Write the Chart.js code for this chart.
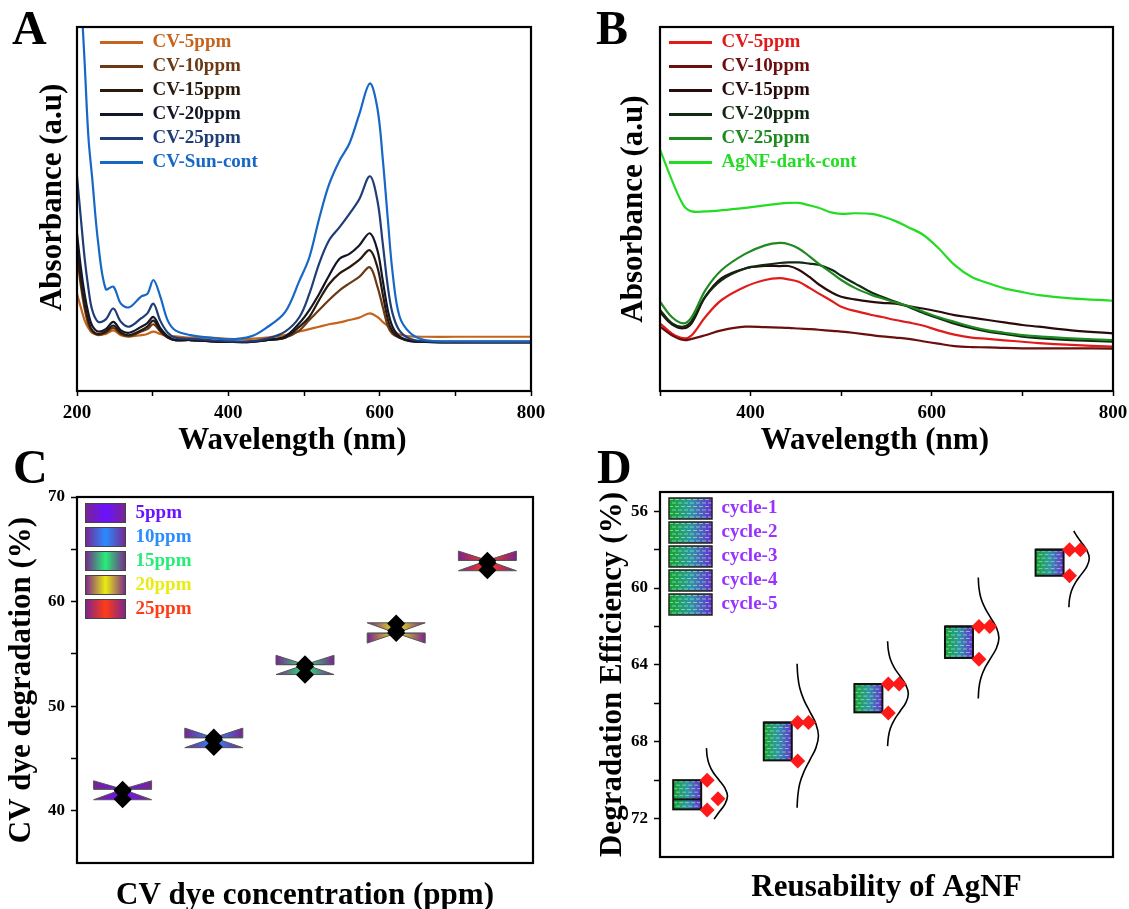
<!DOCTYPE html>
<html>
<head>
<meta charset="utf-8">
<title>CV dye degradation with AgNF</title>
<script src="https://cdn.jsdelivr.net/npm/chart.js@4.4.1/dist/chart.umd.min.js"></script>
<style>
  html, body { margin: 0; padding: 0; background: #fff; }
  #fig { position: relative; width: 1129px; height: 909px; overflow: hidden; background: #fff; }
  #fig canvas { position: absolute; }
  .tag { position: absolute; font: bold 48px 'Liberation Serif', 'Times New Roman', serif; line-height: 1; color: #000; }
</style>
</head>
<body>
<div id="fig">
  <canvas id="chartA" width="560" height="470" style="left:0;top:0"></canvas>
  <canvas id="chartB" width="569" height="470" style="left:560px;top:0"></canvas>
  <canvas id="chartC" width="560" height="460" style="left:0;top:460px"></canvas>
  <canvas id="chartD" width="569" height="460" style="left:560px;top:460px"></canvas>
  <div class="tag" style="left:12px;top:4px">A</div>
  <div class="tag" style="left:596px;top:4px">B</div>
  <div class="tag" style="left:13px;top:443px">C</div>
  <div class="tag" style="left:597px;top:443px">D</div>
</div>
<script>
const SERIF = "'Liberation Serif', 'Times New Roman', serif";
const NB = '\u00a0\u00a0\u00a0';
Chart.defaults.font.family = SERIF;
Chart.defaults.font.weight = 'bold';
Chart.defaults.color = '#000';
Chart.defaults.animation = false;
Chart.defaults.plugins.tooltip.enabled = false;

// ---- panel A : UV-vis, CV under sunlight ----
const waveA = [200, 205, 210, 215, 220, 228, 238, 248, 258, 269, 285, 293, 301, 310, 320, 330, 350, 375, 400, 430,
               450, 475, 494, 507, 520, 533, 547, 560, 573, 587, 597, 604, 611, 617, 626, 640, 660, 700, 800];
const cv5A  = [0.80, 0.69, 0.585, 0.52, 0.48, 0.465, 0.47, 0.50, 0.46, 0.45, 0.46, 0.47, 0.49, 0.47, 0.45, 0.45, 0.44, 0.44, 0.43, 0.43,
               0.44, 0.46, 0.49, 0.51, 0.53, 0.55, 0.565, 0.585, 0.605, 0.64, 0.61, 0.57, 0.535, 0.505, 0.465, 0.45, 0.447, 0.447, 0.447];
const cv10A = [1.13, 0.87, 0.68, 0.55, 0.49, 0.46, 0.48, 0.52, 0.47, 0.45, 0.49, 0.51, 0.55, 0.49, 0.44, 0.42, 0.42, 0.41, 0.405, 0.41,
               0.42, 0.44, 0.50, 0.585, 0.667, 0.75, 0.83, 0.887, 0.94, 1.02, 0.86, 0.695, 0.53, 0.47, 0.44, 0.415, 0.41, 0.405, 0.405];
const cv15A = [1.19, 0.92, 0.72, 0.58, 0.50, 0.47, 0.49, 0.54, 0.48, 0.46, 0.50, 0.53, 0.58, 0.50, 0.44, 0.42, 0.42, 0.41, 0.405, 0.405,
               0.42, 0.44, 0.53, 0.61, 0.75, 0.88, 0.97, 1.02, 1.08, 1.16, 1.02, 0.80, 0.585, 0.49, 0.44, 0.41, 0.405, 0.40, 0.40];
const cv20A = [1.30, 1.02, 0.80, 0.64, 0.54, 0.49, 0.51, 0.57, 0.50, 0.48, 0.53, 0.56, 0.61, 0.52, 0.45, 0.42, 0.42, 0.41, 0.405, 0.405,
               0.42, 0.45, 0.56, 0.667, 0.80, 0.95, 1.09, 1.13, 1.20, 1.30, 1.16, 0.915, 0.66, 0.53, 0.45, 0.415, 0.405, 0.40, 0.40];
const cv25A = [1.77, 1.43, 1.10, 0.85, 0.67, 0.57, 0.59, 0.68, 0.57, 0.53, 0.60, 0.64, 0.72, 0.58, 0.48, 0.44, 0.43, 0.42, 0.41, 0.41,
               0.43, 0.49, 0.61, 0.80, 1.05, 1.24, 1.35, 1.46, 1.58, 1.77, 1.57, 1.22, 0.85, 0.64, 0.50, 0.43, 0.41, 0.405, 0.405];
const sunA  = [3.9, 3.3, 2.72, 2.1, 1.76, 1.22, 0.84, 0.86, 0.72, 0.69, 0.78, 0.80, 0.915, 0.78, 0.58, 0.50, 0.46, 0.44, 0.425, 0.45,
               0.52, 0.65, 0.91, 1.10, 1.42, 1.70, 1.90, 2.04, 2.28, 2.535, 2.33, 1.92, 1.40, 0.98, 0.62, 0.48, 0.42, 0.41, 0.41];
const namesA = ['CV-5ppm', 'CV-10ppm', 'CV-15ppm', 'CV-20ppm', 'CV-25ppm', 'CV-Sun-cont'];
const ticksA = [200, 300, 400, 500, 600, 700, 800];
const tickLabelsA = [200, 400, 600, 800];

// ---- panel B : UV-vis, CV with AgNF in dark ----
const waveB = [300, 313, 326, 335, 350, 368, 394, 416, 432, 442, 453, 465, 475, 490, 500, 515, 534, 545, 560, 574,
               590, 607, 625, 644, 662, 680, 700, 718, 754, 800];
const cv5B  = [0.558, 0.475, 0.435, 0.46, 0.61, 0.75, 0.86, 0.915, 0.93, 0.92, 0.90, 0.85, 0.805, 0.74, 0.695, 0.66, 0.626, 0.61, 0.585, 0.565,
               0.54, 0.50, 0.465, 0.44, 0.43, 0.418, 0.406, 0.395, 0.38, 0.365];
const cv10B = [0.53, 0.46, 0.42, 0.43, 0.46, 0.50, 0.53, 0.527, 0.523, 0.52, 0.515, 0.51, 0.505, 0.495, 0.49, 0.478, 0.46, 0.45, 0.44, 0.43,
               0.41, 0.39, 0.37, 0.362, 0.36, 0.355, 0.352, 0.352, 0.352, 0.35];
const cv15B = [0.65, 0.55, 0.517, 0.56, 0.777, 0.93, 1.01, 1.03, 1.03, 1.03, 1.00, 0.94, 0.88, 0.81, 0.777, 0.755, 0.735, 0.727, 0.72, 0.70,
               0.68, 0.655, 0.626, 0.605, 0.585, 0.565, 0.544, 0.53, 0.50, 0.475];
const cv20B = [0.667, 0.56, 0.53, 0.58, 0.777, 0.915, 1.01, 1.04, 1.055, 1.06, 1.06, 1.05, 1.04, 0.997, 0.95, 0.887, 0.81, 0.777, 0.735, 0.695,
               0.645, 0.60, 0.555, 0.517, 0.49, 0.47, 0.447, 0.435, 0.42, 0.406];
const cv25B = [0.736, 0.61, 0.558, 0.61, 0.83, 0.997, 1.13, 1.20, 1.22, 1.21, 1.175, 1.11, 1.05, 0.97, 0.915, 0.85, 0.79, 0.765, 0.73, 0.70,
               0.655, 0.61, 0.57, 0.53, 0.50, 0.48, 0.46, 0.45, 0.434, 0.42];
const agnfB = [1.99, 1.74, 1.53, 1.48, 1.48, 1.49, 1.51, 1.53, 1.545, 1.55, 1.55, 1.53, 1.51, 1.47, 1.46, 1.465, 1.46, 1.44, 1.40, 1.35,
               1.29, 1.18, 1.04, 0.94, 0.89, 0.846, 0.815, 0.79, 0.764, 0.744];
const namesB = ['CV-5ppm', 'CV-10ppm', 'CV-15ppm', 'CV-20ppm', 'CV-25ppm', 'AgNF-dark-cont'];
const ticksB = [300, 400, 500, 600, 700, 800];
const tickLabelsB = [400, 600, 800];

// ---- panel C : degradation vs dye concentration ----
const concNames = ['5ppm', '10ppm', '15ppm', '20ppm', '25ppm'];
const concPos = [1, 2, 3, 4, 5];
const degRun1 = [42.0, 47.0, 54.0, 57.9, 63.9];
const degRun2 = [41.1, 46.1, 53.0, 57.0, 63.0];
const degRun3 = [41.9, 46.8, 53.8, 57.2, 63.7];
const boxLowC = [41.05, 46.03, 53.02, 56.98, 62.95];
const boxHighC = [42.06, 46.98, 53.97, 57.97, 63.94];
const medianC = [42.06, 46.98, 53.97, 56.98, 63.94];
const notchLowC = [41.05, 46.03, 53.02, 56.03, 62.95];
const notchHighC = [42.86, 47.9, 54.86, 57.97, 64.83];
const ticksC = [40, 45, 50, 55, 60, 65, 70];
const tickLabelsC = [40, 50, 60, 70];

// ---- panel D : reusability ----
const cycleNames = ['cycle-1', 'cycle-2', 'cycle-3', 'cycle-4', 'cycle-5'];
const cyclePos = [1, 2, 3, 4, 5];
const effRun1 = [70.0, 67.0, 65.0, 62.0, 58.0];
const effRun2 = [71.55, 69.0, 66.5, 63.7, 59.36];
const effRun3 = [70.97, 67.0, 65.0, 62.0, 58.0];
const boxLowD = [70.0, 67.0, 65.0, 62.0, 58.0];
const boxHighD = [71.52, 68.97, 66.47, 63.64, 59.36];
const medianD = [71.0, 67.0, 65.0, 62.0, 58.0];
const distCurve1 = [[1.213, 68.33], [1.220, 68.75], [1.242, 69.17], [1.286, 69.59], [1.353, 70.0], [1.417, 70.42], [1.445, 70.83],
                    [1.417, 71.25], [1.353, 71.66], [1.297, 72.03]];
const distCurve2 = [[2.213, 63.94], [2.221, 64.57], [2.242, 65.19], [2.288, 65.82], [2.355, 66.44], [2.421, 67.07], [2.449, 67.69],
                    [2.421, 68.32], [2.355, 68.94], [2.288, 69.57], [2.242, 70.19], [2.221, 70.82], [2.213, 71.44]];
const distCurve3 = [[3.212, 62.77], [3.220, 63.23], [3.241, 63.68], [3.285, 64.14], [3.350, 64.59], [3.414, 65.05], [3.441, 65.5],
                    [3.414, 65.96], [3.350, 66.41], [3.285, 66.87], [3.241, 67.32], [3.220, 67.78], [3.212, 68.23]];
const distCurve4 = [[4.213, 59.45], [4.220, 59.97], [4.241, 60.5], [4.285, 61.02], [4.350, 61.55], [4.414, 62.07], [4.441, 62.6],
                    [4.414, 63.12], [4.350, 63.65], [4.285, 64.17], [4.241, 64.7], [4.220, 65.22], [4.213, 65.75]];
const distCurve5 = [[5.267, 57.03], [5.306, 57.33], [5.348, 57.6], [5.411, 58.03], [5.438, 58.45], [5.411, 58.88], [5.348, 59.3],
                    [5.284, 59.73], [5.241, 60.15], [5.220, 60.58], [5.213, 61.0]];
const ticksD = [56, 58, 60, 62, 64, 66, 68, 70, 72];
const tickLabelsD = [56, 60, 64, 68, 72];

// colours
const colorsA = ['#c4641d', '#6b3a14', '#2a1a0e', '#121626', '#1f3d76', '#1768c6'];
const colorsB = ['#e11b1b', '#6b0e0e', '#2a0b0b', '#0f2a11', '#1f8a1f', '#24dc24'];
const concColors = ['#6a12ff', '#2a8cff', '#28ec78', '#e8ec12', '#ff3c16'];
const EDGE_PURPLE = '#7a2490';
const CYCLE_TEXT = '#9932ff';

// frame around the plot area
const framePlugin = {
  id: 'frame',
  afterDraw(chart) {
    const { ctx, chartArea: a } = chart;
    ctx.save();
    ctx.strokeStyle = '#000';
    ctx.lineWidth = 2.2;
    ctx.strokeRect(a.left, a.top, a.right - a.left, a.bottom - a.top);
    ctx.restore();
  }
};

// put the legend inside the plot, offset from the top-left corner
function legendAt(dx, dy) {
  return {
    id: 'legendAt',
    afterLayout(chart) {
      const lg = chart.legend, a = chart.chartArea;
      if (!lg) return;
      lg.left = a.left + dx;
      lg.top = a.top + dy;
      lg.right = a.right;
      lg.bottom = a.bottom;
    }
  };
}

function legendItems(names, fills, texts) {
  return () => names.map((t, i) => ({
    text: t, fillStyle: fills[i], strokeStyle: 'rgba(0,0,0,0)', lineWidth: 0,
    fontColor: texts[i], hidden: false, index: i, datasetIndex: i
  }));
}

// fixed axis box, no extra room for overhanging labels
function fixHeight(h) {
  return s => { s.height = h; s.paddingLeft = 0; s.paddingRight = 0; };
}

function paintBrick(ctx, x, y, w, h) {
  ctx.save();
  const g = ctx.createLinearGradient(x, 0, x + w, 0);
  g.addColorStop(0, '#16a52a');
  g.addColorStop(0.5, '#2f96a6');
  g.addColorStop(1, '#6a2ad6');
  ctx.fillStyle = g;
  ctx.fillRect(x, y, w, h);
  ctx.beginPath();
  ctx.rect(x, y, w, h);
  ctx.clip();
  ctx.strokeStyle = 'rgba(175,255,195,0.6)';
  ctx.lineWidth = 1;
  let r = 0;
  for (let yy = y + 1.5; yy < y + h; yy += 3.5, r++) {
    ctx.setLineDash([4, 2]);
    ctx.lineDashOffset = r % 2 ? 3 : 0;
    ctx.beginPath();
    ctx.moveTo(x, yy);
    ctx.lineTo(x + w, yy);
    ctx.stroke();
  }
  ctx.restore();
}

function spectrumChart(canvasId, p) {
  return new Chart(document.getElementById(canvasId), {
    type: 'line',
    data: {
      datasets: p.series.map((vals, i) => ({
        label: p.names[i],
        data: p.waves.map((w, j) => ({ x: w, y: vals[j] })),
        borderColor: p.colors[i],
        backgroundColor: p.colors[i],
        borderWidth: 2.2,
        pointRadius: 0,
        tension: 0.35,
        order: p.series.length - i
      }))
    },
    options: {
      responsive: false,
      layout: { padding: { top: 27, right: p.padRight, left: 0, bottom: 0 } },
      scales: {
        x: {
          type: 'linear', min: p.xMin, max: 800,
          afterFit: fixHeight(79),
          afterBuildTicks: s => { s.ticks = p.ticks.map(v => ({ value: v })); },
          ticks: { autoSkip: false, maxRotation: 0, padding: 6, font: { size: 19 },
                   callback: v => p.tickLabels.includes(v) ? String(v) : '' },
          grid: { drawOnChartArea: false, tickLength: 5, tickWidth: 1.5, tickColor: '#000' },
          border: { display: false },
          title: { display: true, text: 'Wavelength (nm)' + NB, font: { size: 31 }, padding: { top: 0, bottom: 10 } }
        },
        y: {
          type: 'linear', min: 0, max: 3,
          afterFit: s => { s.width = p.yWidth; },
          ticks: { display: false },
          grid: { display: false },
          border: { display: false },
          title: { display: true, text: p.yTitle, font: { size: 31 }, padding: { top: p.yTitlePad, bottom: 0 } }
        }
      },
      plugins: {
        legend: {
          position: 'chartArea', align: 'start',
          labels: { boxWidth: 43, boxHeight: 3, padding: 5, font: { size: 19 },
                    generateLabels: legendItems(p.names, p.colors, p.colors) }
        }
      }
    },
    plugins: [framePlugin, legendAt(p.legendDx, 1)]
  });
}

spectrumChart('chartA', {
  waves: waveA, series: [cv5A, cv10A, cv15A, cv20A, cv25A, sunA], names: namesA, colors: colorsA,
  xMin: 200, ticks: ticksA, tickLabels: tickLabelsA, padRight: 29, yWidth: 77,
  yTitle: NB + 'Absorbance (a.u)', yTitlePad: 34, legendDx: 18
});

spectrumChart('chartB', {
  waves: waveB, series: [cv5B, cv10B, cv15B, cv20B, cv25B, agnfB], names: namesB, colors: colorsB,
  xMin: 300, ticks: ticksB, tickLabels: tickLabelsB, padRight: 16, yWidth: 100,
  yTitle: 'Absorbance (a.u)', yTitlePad: 55, legendDx: 4
});

// ---- C ----
const bowtiePlugin = {
  id: 'bowtie',
  afterDatasetDraw(chart, args) {
    if (args.index !== 0) return;
    const { ctx, scales: { y } } = chart;
    args.meta.data.forEach((bar, i) => {
      const { x, width } = bar.getProps(['x', 'width'], true);
      const L = x - width / 2, R = x + width / 2;
      const q1 = y.getPixelForValue(boxLowC[i]);
      const q3 = y.getPixelForValue(boxHighC[i]);
      const md = y.getPixelForValue(medianC[i]);
      const nl = y.getPixelForValue(notchLowC[i]);
      const nh = y.getPixelForValue(notchHighC[i]);
      const g = ctx.createLinearGradient(L, 0, R, 0);
      g.addColorStop(0, EDGE_PURPLE);
      g.addColorStop(0.5, concColors[i]);
      g.addColorStop(1, EDGE_PURPLE);
      ctx.save();
      ctx.beginPath();
      ctx.moveTo(L, q3); ctx.lineTo(R, q3); ctx.lineTo(R, nh); ctx.lineTo(x, md);
      ctx.lineTo(R, nl); ctx.lineTo(R, q1); ctx.lineTo(L, q1); ctx.lineTo(L, nl);
      ctx.lineTo(x, md); ctx.lineTo(L, nh); ctx.closePath();
      ctx.fillStyle = g;
      ctx.fill();
      ctx.strokeStyle = '#555';
      ctx.lineWidth = 1;
      ctx.stroke();
      ctx.beginPath();
      ctx.moveTo(L, md); ctx.lineTo(R, md);
      ctx.stroke();
      ctx.restore();
    });
  }
};

const legendBoxesC = {
  id: 'legendBoxesC',
  afterDraw(chart) {
    const { ctx } = chart;
    chart.legend.legendHitBoxes.forEach((hb, i) => {
      const w = 41, h = 20;
      const g = ctx.createLinearGradient(hb.left, 0, hb.left + w, 0);
      g.addColorStop(0, EDGE_PURPLE);
      g.addColorStop(0.5, concColors[i]);
      g.addColorStop(1, EDGE_PURPLE);
      ctx.save();
      ctx.fillStyle = g;
      ctx.fillRect(hb.left, hb.top, w, h);
      ctx.strokeStyle = '#444';
      ctx.lineWidth = 1;
      ctx.strokeRect(hb.left + 0.5, hb.top + 0.5, w - 1, h - 1);
      ctx.restore();
    });
  }
};

const pointsC = [];
concPos.forEach((x, i) => {
  [degRun1[i], degRun2[i], degRun3[i]].forEach(v => pointsC.push({ x, y: v }));
});

new Chart(document.getElementById('chartC'), {
  type: 'scatter',
  data: {
    datasets: [
      { type: 'bar', label: 'notch', data: concPos.map((x, i) => ({ x, y: [notchLowC[i], notchHighC[i]] })),
        backgroundColor: 'rgba(0,0,0,0)', borderWidth: 0, barThickness: 58, order: 2 },
      { label: 'degradation', data: pointsC, pointStyle: 'rectRot', pointRadius: 9,
        backgroundColor: '#000', borderColor: '#000', borderWidth: 0, order: 1 }
    ]
  },
  options: {
    responsive: false,
    layout: { padding: { top: 37, right: 27, left: 0, bottom: 0 } },
    scales: {
      x: {
        type: 'linear', min: 0.5, max: 5.5, offset: false,
        afterFit: fixHeight(57),
        ticks: { display: false }, grid: { display: false }, border: { display: false },
        title: { display: true, text: 'CV dye concentration (ppm)', font: { size: 31 }, padding: { top: 0, bottom: 5 } }
      },
      y: {
        type: 'linear', min: 35, max: 70,
        afterFit: s => { s.width = 77; },
        afterBuildTicks: s => { s.ticks = ticksC.map(v => ({ value: v })); },
        ticks: { padding: 6, font: { size: 17 }, callback: v => tickLabelsC.includes(v) ? String(v) : '' },
        grid: { drawOnChartArea: false, tickLength: 6, tickWidth: 1.5, tickColor: '#000' },
        border: { display: false },
        title: { display: true, text: 'CV dye degradation (%)', font: { size: 31 }, padding: { top: 3, bottom: 0 } }
      }
    },
    plugins: {
      legend: {
        position: 'chartArea', align: 'start',
        labels: { boxWidth: 41, boxHeight: 20, padding: 4, font: { size: 19 },
                  generateLabels: legendItems(concNames, concNames.map(() => 'rgba(0,0,0,0)'), concColors) }
      }
    }
  },
  plugins: [bowtiePlugin, framePlugin, legendAt(4, 2), legendBoxesC]
});

// ---- D ----
const brickBoxPlugin = {
  id: 'brickBox',
  afterDatasetDraw(chart, args) {
    if (args.index !== 0) return;
    const { ctx, scales: { y } } = chart;
    args.meta.data.forEach((bar, i) => {
      const p = bar.getProps(['x', 'y', 'base', 'width'], true);
      const top = Math.min(p.y, p.base), h = Math.abs(p.base - p.y), left = p.x - p.width / 2;
      paintBrick(ctx, left, top, p.width, h);
      ctx.save();
      ctx.strokeStyle = '#111';
      ctx.lineWidth = 2;
      ctx.strokeRect(left, top, p.width, h);
      const m = y.getPixelForValue(medianD[i]);
      ctx.beginPath();
      ctx.moveTo(left, m); ctx.lineTo(left + p.width, m);
      ctx.stroke();
      ctx.restore();
    });
  }
};

const legendBoxesD = {
  id: 'legendBoxesD',
  afterDraw(chart) {
    const { ctx } = chart;
    chart.legend.legendHitBoxes.forEach(hb => {
      const w = 43, h = 21;
      paintBrick(ctx, hb.left, hb.top, w, h);
      ctx.save();
      ctx.strokeStyle = '#222';
      ctx.lineWidth = 1.5;
      ctx.strokeRect(hb.left, hb.top, w, h);
      ctx.restore();
    });
  }
};

// red diamonds: overlapping values are moved to a second column
const pointsD = [];
cyclePos.forEach((x, i) => {
  const placed = [];
  [effRun1[i], effRun2[i], effRun3[i]].forEach(v => {
    let col = 0;
    while (placed.some(q => q.col === col && Math.abs(q.v - v) < 0.75)) col++;
    placed.push({ v, col });
    pointsD.push({ x: x + 0.22 + col * 0.12, y: v });
  });
});

const curveSets = [distCurve1, distCurve2, distCurve3, distCurve4, distCurve5].map((c, k) => ({
  label: 'dist-' + (k + 1),
  data: c.map(([x, y]) => ({ x, y })),
  showLine: true, pointRadius: 0, borderColor: '#000', borderWidth: 1.6, tension: 0.4, order: 2
}));

new Chart(document.getElementById('chartD'), {
  type: 'scatter',
  data: {
    datasets: [
      { type: 'bar', label: 'box', data: cyclePos.map((x, i) => ({ x, y: [boxLowD[i], boxHighD[i]] })),
        backgroundColor: 'rgba(0,0,0,0)', borderWidth: 0, barThickness: 28, order: 3 },
      ...curveSets,
      { label: 'efficiency', data: pointsD, pointStyle: 'rectRot', pointRadius: 7.5,
        backgroundColor: '#ff1a1a', borderColor: '#ff1a1a', borderWidth: 0, order: 1 }
    ]
  },
  options: {
    responsive: false,
    layout: { padding: { top: 32, right: 16, left: 0, bottom: 0 } },
    scales: {
      x: {
        type: 'linear', min: 0.7, max: 5.7, offset: false,
        afterFit: fixHeight(63),
        ticks: { display: false }, grid: { display: false }, border: { display: false },
        title: { display: true, text: 'Reusability of AgNF', font: { size: 31 }, padding: { top: 0, bottom: 13 } }
      },
      y: {
        type: 'linear', min: 55, max: 74, reverse: true,
        afterFit: s => { s.width = 100; },
        afterBuildTicks: s => { s.ticks = ticksD.map(v => ({ value: v })); },
        ticks: { padding: 6, font: { size: 17 }, callback: v => tickLabelsD.includes(v) ? String(v) : '' },
        grid: { drawOnChartArea: false, tickLength: 6, tickWidth: 1.5, tickColor: '#000' },
        border: { display: false },
        title: { display: true, text: 'Degradation Efficiency (%)', font: { size: 31 }, padding: { top: 34, bottom: 0 } }
      }
    },
    plugins: {
      legend: {
        position: 'chartArea', align: 'start',
        labels: { boxWidth: 43, boxHeight: 21, padding: 3, font: { size: 19 },
                  generateLabels: legendItems(cycleNames, cycleNames.map(() => 'rgba(0,0,0,0)'), cycleNames.map(() => CYCLE_TEXT)) }
      }
    }
  },
  plugins: [brickBoxPlugin, framePlugin, legendAt(6, 3), legendBoxesD]
});
</script>
</body>
</html>
